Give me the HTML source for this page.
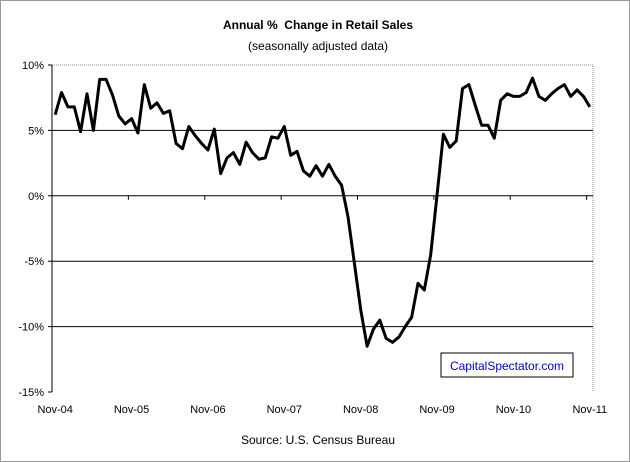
<!DOCTYPE html>
<html><head><meta charset="utf-8"><style>
body{margin:0;background:#fff;}
svg{display:block;font-family:"Liberation Sans",Arial,sans-serif;}
</style></head><body>
<svg width="630" height="462" viewBox="0 0 630 462">
<rect x="0.5" y="0.5" width="629" height="461" fill="#fff" stroke="#999"/>
<text x="318" y="29" text-anchor="middle" font-size="12" font-weight="bold" style="white-space:pre">Annual %  Change in Retail Sales</text>
<text x="318" y="50" text-anchor="middle" font-size="12">(seasonally adjusted data)</text>
<g id="plot"></g>
<rect x="441" y="353" width="132" height="24" fill="#fff" stroke="#000"/>
<text x="507" y="370" text-anchor="middle" font-size="12" fill="#0000cc">CapitalSpectator.com</text>
<text x="318" y="444" text-anchor="middle" font-size="12">Source: U.S. Census Bureau</text>
</svg>
<script>
const yTicks=[10,5,0,-5,-10,-15];
const yTickLabels=["10%","5%","0%","-5%","-10%","-15%"];
const xLabels=["Nov-04","Nov-05","Nov-06","Nov-07","Nov-08","Nov-09","Nov-10","Nov-11"];
const values=[6.2,7.9,6.8,6.8,4.9,7.8,5.0,8.9,8.9,7.7,6.1,5.5,5.9,4.8,8.5,6.7,7.1,6.3,6.5,4.0,3.6,5.3,4.6,4.0,3.5,5.1,1.7,2.9,3.3,2.4,4.1,3.3,2.8,2.9,4.5,4.4,5.3,3.1,3.4,1.9,1.5,2.3,1.5,2.4,1.5,0.8,-1.6,-5.1,-8.7,-11.5,-10.2,-9.5,-10.9,-11.2,-10.8,-10.0,-9.3,-6.7,-7.2,-4.5,0.1,4.7,3.7,4.2,8.2,8.5,6.9,5.4,5.4,4.4,7.3,7.8,7.6,7.6,7.9,9.0,7.6,7.3,7.8,8.2,8.5,7.6,8.1,7.6,6.8];
const L=52,R=593,T=65,B=392,yMax=10,yMin=-15;
const n=values.length, step=(R-L)/n;
const ys=v=>T+(yMax-v)/(yMax-yMin)*(B-T);
const xs=i=>L+(i+0.5)*step;
const g=document.getElementById('plot');
const NS="http://www.w3.org/2000/svg";
function mk(t,a){const e=document.createElementNS(NS,t);for(const k in a)e.setAttribute(k,a[k]);g.appendChild(e);return e;}
let f=mk('path',{d:`M${L} ${T}H${R}V${B}`,fill:'none',stroke:'#888','stroke-dasharray':'1,1'});


yTicks.forEach((v,k)=>{
  const y=ys(v);
  if(v<yMax&&v>yMin){const l=mk('line',{x1:L,x2:R,y1:y,y2:y,stroke:'#000'});
    
    }
  const tk=mk('line',{x1:L-4,x2:L,y1:y,y2:y,stroke:'#000'});
  
  
  const t=mk('text',{x:L-8,y:y+4,'text-anchor':'end','font-size':'11'});
  t.textContent=yTickLabels[k];
  
  
});
const ax=mk('line',{x1:L,x2:L,y1:T,y2:B,stroke:'#000'});


const zy=ys(0);
for(let k=0;k<=Math.floor(n/12);k++){
  const x=L+k*12*step;
  const tk=mk('line',{x1:x,x2:x,y1:zy,y2:zy+4,stroke:'#000'});
  
  
}
xLabels.forEach((s,k)=>{
  const t=mk('text',{x:xs(k*12),y:413,'text-anchor':'middle','font-size':'11'});
  t.textContent=s;
  
  
});
const line=mk('polyline',{points:values.map((v,i)=>xs(i).toFixed(1)+','+ys(v).toFixed(1)).join(' '),fill:'none',stroke:'#000','stroke-width':'3','stroke-linejoin':'round'});


</script>
</body></html>
